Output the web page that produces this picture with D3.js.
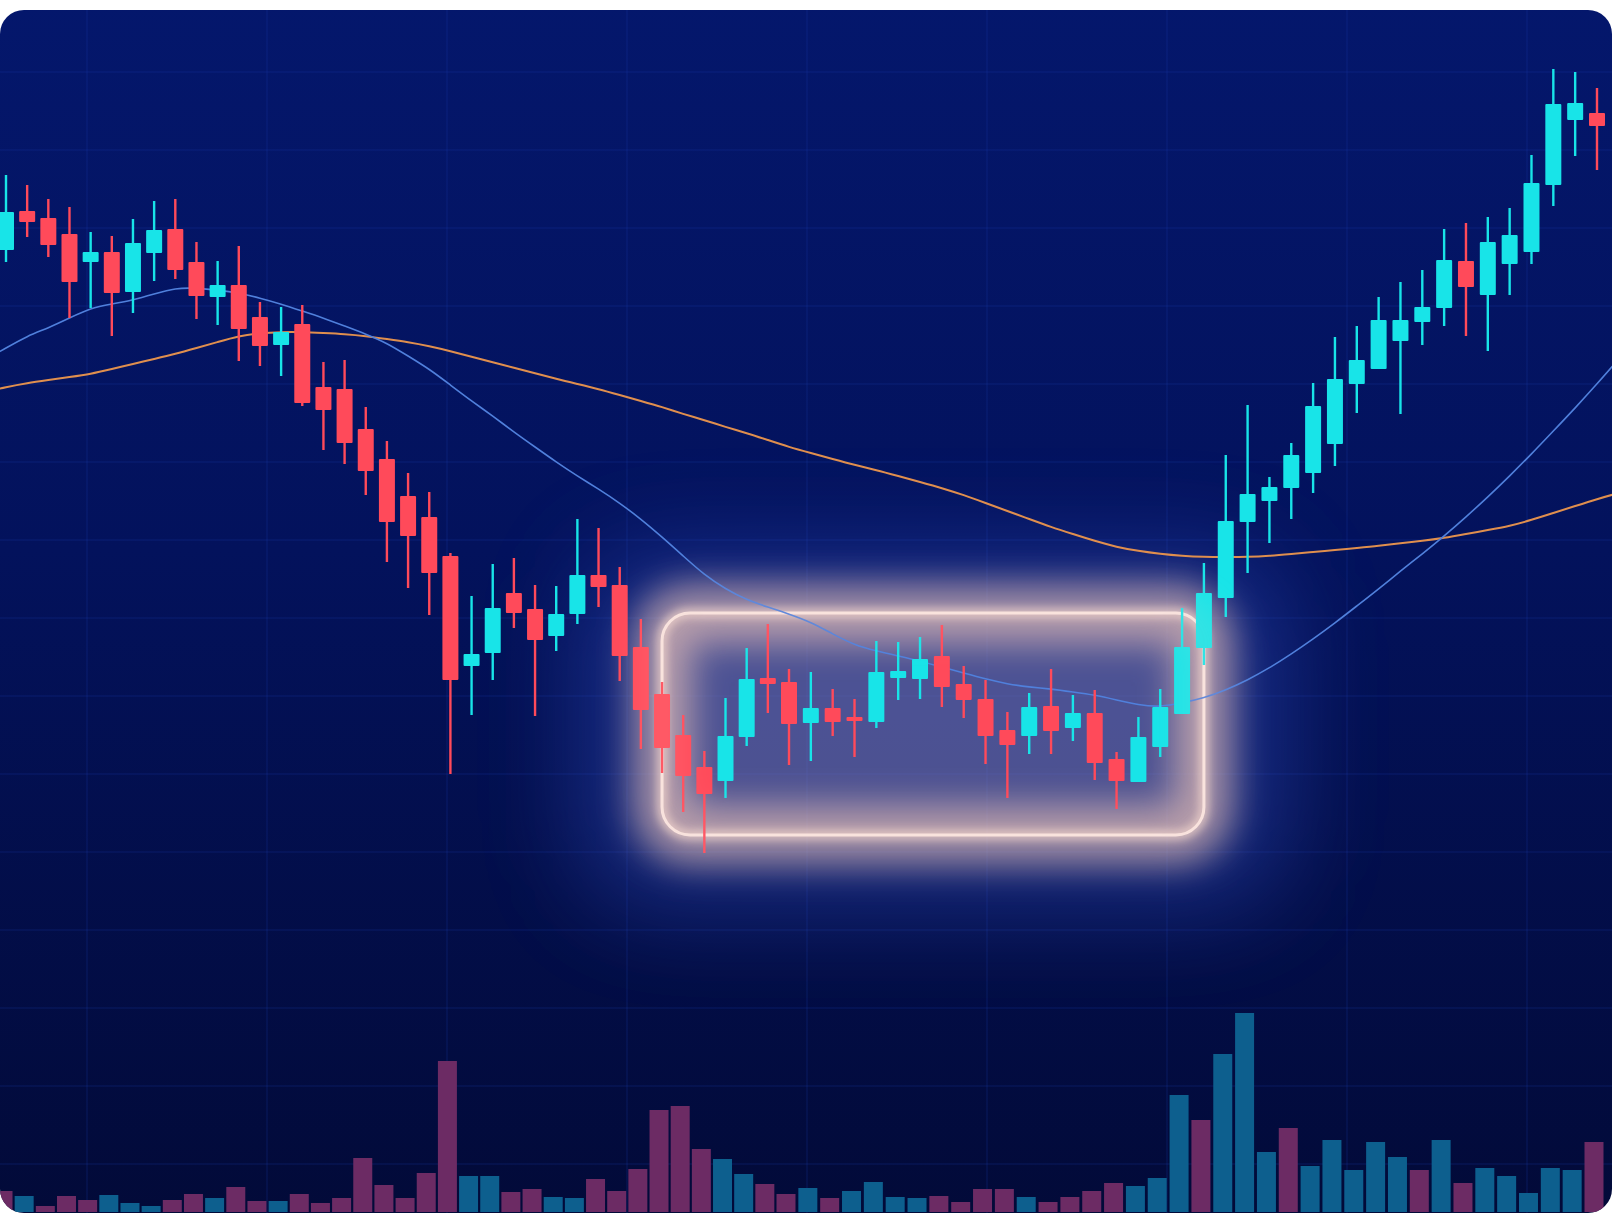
<!DOCTYPE html>
<html>
<head>
<meta charset="utf-8">
<script src="https://cdn.jsdelivr.net/npm/d3@7"></script>
<style>
  html, body { margin: 0; padding: 0; background: #ffffff; }
  svg { display: block; }
</style>
</head>
<body>
<script>
// candles (price units)
const opens = [75.0, 78.9, 78.2, 76.6, 73.8, 74.8, 70.8, 74.7, 77.1, 73.8,
  70.3, 71.5, 68.3, 65.5, 67.6, 61.3, 61.1, 57.1, 54.1, 50.4,
  48.3, 44.4, 33.4, 34.7, 40.7, 39.1, 36.4, 38.6, 42.5, 41.5,
  35.3, 30.6, 26.5, 23.3, 21.9, 26.3, 32.2, 31.8, 27.7, 29.2,
  28.3, 27.8, 32.2, 32.1, 34.4, 31.6, 30.1, 27.0, 26.4, 29.4,
  27.2, 28.7, 24.1, 21.8, 25.3, 28.6, 35.2, 40.2, 47.8, 49.9,
  51.2, 52.7, 55.6, 61.6, 63.1, 65.9, 67.8, 69.2, 73.9, 70.5,
  73.6, 74.8, 81.5, 88.0, 88.7];
const closes = [78.8, 77.8, 75.5, 71.8, 74.8, 70.7, 75.7, 77.0, 73.0, 70.4,
  71.5, 67.1, 65.4, 66.8, 59.7, 59.0, 55.7, 52.9, 47.8, 46.4,
  42.7, 32.0, 34.6, 39.2, 38.7, 36.0, 38.6, 42.5, 41.3, 34.4,
  29.0, 25.2, 22.4, 20.6, 26.4, 32.1, 31.6, 27.6, 29.2, 27.8,
  27.9, 32.8, 32.9, 34.1, 31.3, 30.0, 26.4, 25.5, 29.3, 26.9,
  28.7, 23.7, 21.9, 26.3, 29.3, 35.3, 40.7, 47.9, 50.6, 51.3,
  54.5, 59.4, 62.1, 64.0, 68.0, 68.0, 69.3, 74.0, 71.3, 75.8,
  76.5, 81.7, 89.6, 89.7, 87.4];
const highs = [82.5, 81.5, 80.1, 79.3, 76.8, 76.4, 78.1, 79.9, 80.1, 75.8,
  73.9, 75.4, 69.8, 69.3, 69.5, 63.8, 64.0, 59.3, 55.9, 52.7,
  50.8, 44.7, 40.4, 43.6, 44.2, 41.5, 41.4, 48.1, 47.2, 43.3,
  38.1, 31.8, 28.5, 24.9, 30.2, 35.2, 37.6, 33.1, 32.8, 31.1,
  30.1, 35.9, 35.8, 36.3, 37.5, 33.4, 32.0, 28.8, 30.7, 33.1,
  30.5, 31.0, 24.8, 28.3, 31.1, 39.2, 43.7, 54.5, 59.5, 52.3,
  55.7, 61.7, 66.3, 67.4, 70.3, 71.8, 73.0, 77.1, 77.7, 78.3,
  79.2, 84.5, 93.1, 92.8, 91.2];
const lows = [73.8, 76.3, 74.3, 68.2, 69.2, 66.4, 68.7, 71.9, 72.1, 68.1,
  67.5, 63.9, 63.4, 62.4, 59.4, 55.0, 53.6, 50.5, 43.8, 41.2,
  38.5, 22.6, 28.5, 32.0, 37.2, 28.4, 34.9, 37.6, 39.3, 31.9,
  25.1, 22.7, 18.8, 14.7, 20.2, 25.4, 28.7, 23.5, 23.9, 26.4,
  24.3, 27.2, 30.0, 30.1, 29.3, 28.2, 23.6, 20.2, 24.6, 24.6,
  25.9, 22.0, 19.1, 21.8, 24.3, 28.6, 33.5, 38.3, 42.7, 45.7,
  48.1, 50.7, 53.4, 58.7, 63.1, 58.6, 65.5, 67.4, 66.4, 64.9,
  70.5, 73.6, 79.4, 84.4, 83.0];

// volume per candle, 1 = buy bar, 0 = sell bar
const volumes = [21, 16, 6, 16, 12, 17, 9, 6, 12, 18,
  14, 25, 11, 11, 18, 9, 14, 54, 27, 14,
  39, 151, 36, 36, 20, 23, 15, 14, 33, 21,
  43, 102, 106, 63, 53, 38, 28, 18, 24, 14,
  21, 30, 15, 14, 16, 10, 23, 23, 15, 10,
  15, 21, 29, 26, 34, 117, 92, 158, 199, 60,
  84, 46, 72, 42, 70, 55, 42, 72, 29, 44,
  36, 19, 44, 42, 70];
const volumeUp = [0, 1, 0, 0, 0, 1, 1, 1, 0, 0,
  1, 0, 0, 1, 0, 0, 0, 0, 0, 0,
  0, 0, 1, 1, 0, 0, 1, 1, 0, 0,
  0, 0, 0, 0, 1, 1, 0, 0, 1, 0,
  1, 1, 1, 1, 0, 0, 0, 0, 1, 0,
  0, 0, 0, 1, 1, 1, 0, 1, 1, 1,
  0, 1, 1, 1, 1, 1, 0, 1, 0, 1,
  1, 1, 1, 1, 0];

// moving averages, from index -1 to 75 (one step past each edge)
const maFast = [64.0, 65.2, 66.4, 67.2, 68.2, 69.2, 69.6, 70.0, 70.6, 71.2,
  71.2, 71.0, 70.7, 70.2, 69.6, 68.9, 68.2, 67.4, 66.6, 65.7,
  64.4, 63.1, 61.5, 59.9, 58.4, 56.8, 55.3, 53.8, 52.4, 51.1,
  49.7, 48.1, 46.3, 44.4, 42.5, 41.1, 40.0, 39.3, 38.6, 37.8,
  36.6, 35.5, 34.9, 34.4, 33.9, 33.3, 32.7, 32.1, 31.6, 31.3,
  31.1, 30.8, 30.5, 30.0, 29.5, 29.3, 29.7, 30.2, 31.0, 32.0,
  33.2, 34.6, 36.1, 37.7, 39.4, 41.1, 42.9, 44.6, 46.4, 48.3,
  50.3, 52.4, 54.6, 56.9, 59.2, 61.6, 64.1];
const maSlow = [60.8, 61.3, 61.7, 62.0, 62.3, 62.6, 63.1, 63.6, 64.1, 64.6,
  65.2, 65.8, 66.4, 66.7, 66.8, 66.8, 66.7, 66.6, 66.4, 66.1,
  65.8, 65.4, 64.9, 64.3, 63.8, 63.2, 62.7, 62.1, 61.6, 61.1,
  60.5, 59.9, 59.3, 58.6, 58.0, 57.3, 56.7, 56.0, 55.3, 54.7,
  54.1, 53.5, 53.0, 52.4, 51.8, 51.2, 50.5, 49.7, 48.9, 48.1,
  47.3, 46.6, 45.9, 45.3, 44.9, 44.6, 44.4, 44.3, 44.3, 44.3,
  44.4, 44.6, 44.8, 45.0, 45.2, 45.4, 45.7, 45.9, 46.2, 46.6,
  47.0, 47.4, 48.0, 48.7, 49.4, 50.1, 50.7];

// consolidation range highlighted on the chart
const boxFrom = 31, boxTo = 56, boxHigh = 38.7, boxLow = 16.5;

const W = 1612, H = 1222;
const UP = "#18e4e8", DOWN = "#ff4a5a";

const svg = d3.select("body").append("svg")
    .attr("width", W)
    .attr("height", H);
const defs = svg.append("defs");

const bg = defs.append("linearGradient")
    .attr("id", "bg")
    .attr("x1", 0).attr("y1", 0).attr("x2", 0).attr("y2", 1);
bg.append("stop").attr("offset", "0%").attr("stop-color", "#04176c");
bg.append("stop").attr("offset", "45%").attr("stop-color", "#03125c");
bg.append("stop").attr("offset", "100%").attr("stop-color", "#020a38");

defs.append("clipPath").attr("id", "panel")
  .append("rect")
    .attr("x", 0).attr("y", 10)
    .attr("width", W).attr("height", 1203)
    .attr("rx", 24);

[["blurBig", 50], ["blurMid", 18], ["blurSmall", 4]].forEach(function(f) {
    defs.append("filter")
        .attr("id", f[0])
        .attr("x", "-50%").attr("y", "-50%")
        .attr("width", "200%").attr("height", "200%")
      .append("feGaussianBlur")
        .attr("stdDeviation", f[1]);
});

// scales
const x = d3.scaleLinear().domain([0, 37, 74]).range([6, 789, 1597]);
const y = d3.scaleLinear().domain([0, 100]).range([1000, 0]);
const yVol = d3.scaleLinear().domain([0, 200]).range([1212, 1012]);

const g = svg.append("g").attr("clip-path", "url(#panel)");

g.append("rect")
    .attr("x", 0).attr("y", 0)
    .attr("width", W).attr("height", H)
    .attr("fill", "url(#bg)");

// faint grid
const grid = g.append("g")
    .attr("stroke", "#1f3cb0")
    .attr("stroke-opacity", 0.3)
    .attr("stroke-width", 1);
grid.selectAll("line.v")
    .data(d3.range(87, W, 180))
    .join("line")
    .attr("class", "v")
    .attr("x1", d => d).attr("x2", d => d)
    .attr("y1", 0).attr("y2", H);
grid.selectAll("line.h")
    .data(d3.range(72, H, 78))
    .join("line")
    .attr("class", "h")
    .attr("x1", 0).attr("x2", W)
    .attr("y1", d => d).attr("y2", d => d);

// volume
const idx = d3.range(opens.length);
const volW = 19;
g.append("g").selectAll("rect")
    .data(idx)
    .join("rect")
    .attr("x", i => x(i) - 3 - volW / 2)
    .attr("y", i => yVol(volumes[i]))
    .attr("width", volW)
    .attr("height", i => yVol(0) - yVol(volumes[i]))
    .attr("fill", i => volumeUp[i] ? "#0d5f8e" : "#6c2b64");

// highlight box with glow
const bx0 = x(boxFrom), bx1 = x(boxTo), by0 = y(boxHigh), by1 = y(boxLow);
function boxRect(sel) {
    return sel.append("rect")
        .attr("x", bx0).attr("y", by0)
        .attr("width", bx1 - bx0).attr("height", by1 - by0)
        .attr("rx", 28);
}
const glow = g.append("g");
glow.append("rect")
    .attr("x", bx0 - 80).attr("y", by0 - 60)
    .attr("width", bx1 - bx0 + 160).attr("height", by1 - by0 + 130)
    .attr("rx", 70)
    .attr("fill", "#3452c8")
    .attr("opacity", 0.45)
    .attr("filter", "url(#blurBig)");
boxRect(glow)
    .attr("fill", "#c4a6ae")
    .attr("fill-opacity", 0.3);
boxRect(glow)
    .attr("fill", "none")
    .attr("stroke", "#ffcfb8")
    .attr("stroke-width", 58)
    .attr("opacity", 0.55)
    .attr("filter", "url(#blurMid)");
boxRect(glow)
    .attr("fill", "none")
    .attr("stroke", "#ffe2d6")
    .attr("stroke-width", 10)
    .attr("opacity", 0.65)
    .attr("filter", "url(#blurSmall)");
boxRect(glow)
    .attr("fill", "none")
    .attr("stroke", "#f8e4e0")
    .attr("stroke-width", 3);

// moving averages
const maLine = d3.line()
    .x((d, i) => x(i - 1))
    .y(d => y(d))
    .curve(d3.curveBasis);
g.append("path")
    .attr("d", maLine(maSlow))
    .attr("fill", "none")
    .attr("stroke", "#e08f4e")
    .attr("stroke-width", 2);
g.append("path")
    .attr("d", maLine(maFast))
    .attr("fill", "none")
    .attr("stroke", "#5080dc")
    .attr("stroke-width", 1.6);

// candles
const bodyW = 16;
const candles = g.append("g").selectAll("g")
    .data(idx)
    .join("g")
    .attr("fill", i => closes[i] >= opens[i] ? UP : DOWN)
    .attr("stroke", i => closes[i] >= opens[i] ? UP : DOWN);
candles.append("line")
    .attr("x1", i => x(i)).attr("x2", i => x(i))
    .attr("y1", i => y(highs[i]))
    .attr("y2", i => y(lows[i]))
    .attr("stroke-width", 2.4);
candles.append("rect")
    .attr("x", i => x(i) - bodyW / 2)
    .attr("y", i => y(Math.max(opens[i], closes[i])))
    .attr("width", bodyW)
    .attr("height", i => Math.max(2, Math.abs(y(opens[i]) - y(closes[i]))))
    .attr("stroke", "none")
    .attr("rx", 1);

// soft wash of the glow over the candles inside the range
boxRect(g)
    .attr("fill", "none")
    .attr("stroke", "#ffd8c8")
    .attr("stroke-width", 40)
    .attr("opacity", 0.14)
    .attr("filter", "url(#blurMid)")
    .style("pointer-events", "none");
</script>
</body>
</html>
